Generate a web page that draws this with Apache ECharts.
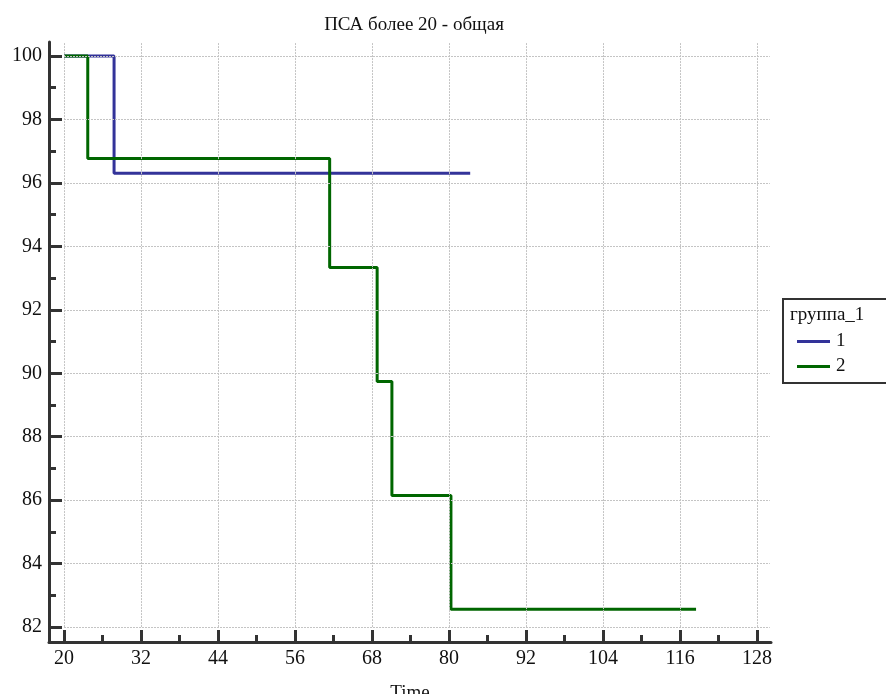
<!DOCTYPE html>
<html>
<head>
<meta charset="utf-8">
<script src="https://cdn.jsdelivr.net/npm/echarts@6/dist/echarts.min.js"></script>
<style>
  html, body { margin: 0; padding: 0; background: #fff; }
  #chart { width: 886px; height: 694px; }
</style>
</head>
<body>
<div id="chart"></div>
<script>
// Kaplan–Meier style survival curves (percent) by group
const group1Time = [20, 27.8, 83.3];
const group1Surv = [100, 96.3, 96.3];
const group2Time = [20, 23.7, 61.4, 68.8, 71.1, 80.3, 118.5];
const group2Surv = [100, 96.77, 93.33, 89.74, 86.15, 82.56, 82.56];

const seriesNames = ['1', '2'];
const xMajorTicks = [20, 32, 44, 56, 68, 80, 92, 104, 116, 128];
const xMinorTicks = [26, 38, 50, 62, 74, 86, 98, 110, 122];
const yMajorTicks = [82, 84, 86, 88, 90, 92, 94, 96, 98, 100];
const yMinorTicks = [83, 85, 87, 89, 91, 93, 95, 97, 99];

// axis extents: axes sit slightly outside the gridded region
const X_MIN = 17.66, X_MAX = 130.18;
const Y_MIN = 81.53, Y_MAX = 100.44;
// gridded region bounds
const GRID_X = [20, 130];
const GRID_Y = [82, 100.41];

const FONT = '"Liberation Serif", "DejaVu Serif", serif';
const AXIS_COLOR = '#333333';

const pairs = (xs, ys) => xs.map((x, i) => [x, ys[i]]);

const gridSegments = [
  ...xMajorTicks.map(x => [{ coord: [x, GRID_Y[0]] }, { coord: [x, GRID_Y[1]] }]),
  ...yMajorTicks.map(y => [{ coord: [GRID_X[0], y] }, { coord: [GRID_X[1], y] }])
];

const chart = echarts.init(document.getElementById('chart'), null, { renderer: 'canvas' });

const majorAxis = (extra) => Object.assign({
  type: 'value',
  splitLine: { show: false },
  axisLine: { show: true, onZero: false, lineStyle: { color: AXIS_COLOR, width: 3 } },
  z: 5
}, extra);

const minorAxis = (extra) => Object.assign({
  type: 'value',
  splitLine: { show: false },
  axisLine: { show: false },
  axisLabel: { show: false },
  z: 5
}, extra);

chart.setOption({
  animation: false,
  backgroundColor: '#ffffff',
  title: {
    text: 'ПСА более 20 - общая',
    left: 409,
    textAlign: 'center',
    top: 11,
    textStyle: { fontFamily: FONT, fontSize: 19, fontWeight: 'normal', color: '#111' }
  },
  grid: { left: 49, right: 115, top: 42, bottom: 52, containLabel: false, outerBoundsMode: 'none' },
  xAxis: [
    majorAxis({
      min: X_MIN, max: X_MAX,
      name: 'Time', nameLocation: 'middle', nameGap: 42,
      nameTextStyle: { fontFamily: FONT, fontSize: 19, color: '#111' },
      axisTick: { show: true, inside: true, length: 12, customValues: xMajorTicks,
                  lineStyle: { color: AXIS_COLOR, width: 3 } },
      axisLabel: { color: '#111', fontFamily: FONT, fontSize: 20, margin: 7, customValues: xMajorTicks }
    }),
    minorAxis({
      min: X_MIN, max: X_MAX, position: 'bottom',
      axisTick: { show: true, inside: true, length: 7, customValues: xMinorTicks,
                  lineStyle: { color: AXIS_COLOR, width: 3 } }
    })
  ],
  yAxis: [
    majorAxis({
      min: Y_MIN, max: Y_MAX,
      axisTick: { show: true, inside: true, length: 13, customValues: yMajorTicks,
                  lineStyle: { color: AXIS_COLOR, width: 3 } },
      axisLabel: { color: '#111', fontFamily: FONT, fontSize: 20, margin: 7, customValues: yMajorTicks }
    }),
    minorAxis({
      min: Y_MIN, max: Y_MAX, position: 'left',
      axisTick: { show: true, inside: true, length: 7, customValues: yMinorTicks,
                  lineStyle: { color: AXIS_COLOR, width: 3 } }
    })
  ],
  legend: {
    data: seriesNames,
    orient: 'vertical',
    left: 792,
    top: 327,
    icon: 'rect',
    itemWidth: 33,
    itemHeight: 3,
    itemGap: 6,
    textStyle: { fontFamily: FONT, fontSize: 19, color: '#111', padding: [0, 0, 0, 1] },
    selectedMode: false
  },
  graphic: [
    {
      type: 'rect',
      shape: { x: 783, y: 299, width: 110, height: 84 },
      style: { fill: 'none', stroke: AXIS_COLOR, lineWidth: 2 },
      silent: true
    },
    {
      type: 'text',
      left: 790,
      top: 306,
      style: { text: 'группа_1', font: '19px ' + FONT, fill: '#111' },
      silent: true
    }
  ],
  series: [
    {
      name: 'gridlines',
      type: 'line',
      data: [],
      z: 1,
      silent: true,
      markLine: {
        silent: true,
        symbol: ['none', 'none'],
        label: { show: false },
        lineStyle: { color: '#c4c4c4', width: 1, type: [2, 1] },
        emphasis: { disabled: true },
        data: gridSegments
      }
    },
    {
      name: seriesNames[0],
      type: 'line',
      step: 'end',
      data: pairs(group1Time, group1Surv),
      showSymbol: false,
      symbol: 'none',
      color: '#333399',
      lineStyle: { color: '#333399', width: 3 },
      z: 3
    },
    {
      name: seriesNames[1],
      type: 'line',
      step: 'end',
      data: pairs(group2Time, group2Surv),
      showSymbol: false,
      symbol: 'none',
      color: '#006600',
      lineStyle: { color: '#006600', width: 3 },
      z: 4
    }
  ]
});
</script>
</body>
</html>
